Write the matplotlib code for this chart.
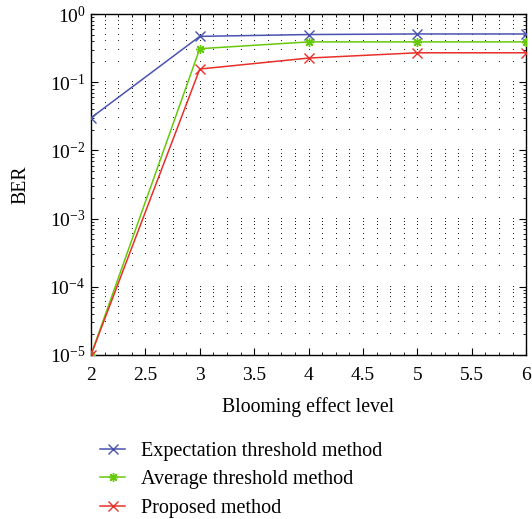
import matplotlib
matplotlib.use("Agg")
import numpy as np
import matplotlib.pyplot as plt
from matplotlib.ticker import LogLocator, NullFormatter

plt.rcParams["font.family"] = ["Liberation Serif", "DejaVu Serif"]
plt.rcParams["mathtext.fontset"] = "stix"

levels = [2, 3, 4, 5, 6]
ber_expectation = [0.03, 0.47, 0.50, 0.51, 0.51]
ber_average = [1e-5, 0.31, 0.39, 0.39, 0.39]
ber_proposed = [1e-5, 0.156, 0.226, 0.27, 0.27]

xticks = [2, 2.5, 3, 3.5, 4, 4.5, 5, 5.5, 6]
xtick_labels = ["2", "2.5", "3", "3.5", "4", "4.5", "5", "5.5", "6"]

series = [
    ("Expectation threshold method", ber_expectation, "#4a52b0", "x"),
    ("Average threshold method", ber_average, "#66c90a", (8, 2, 0)),
    ("Proposed method", ber_proposed, "#e8302a", "x"),
]

fig = plt.figure(figsize=(5.32, 5.19), dpi=100)
ax = fig.add_axes([0.171, 0.316, 0.818, 0.657])

ax.set_xlim(2, 6)
ax.set_ylim(1e-5, 1)
ax.set_yscale("log")
ax.set_xticks(xticks, xtick_labels)
ax.set_xticks(np.arange(2, 6.001, 0.125), minor=True)
ax.yaxis.set_major_locator(LogLocator(base=10, numticks=10))
ax.yaxis.set_minor_locator(LogLocator(base=10, subs=range(2, 10), numticks=10))
ax.yaxis.set_minor_formatter(NullFormatter())

# dotted grid: dots where the x and y grid lines cross
gx = np.arange(2.125, 5.9, 0.125)
gy = [v for v in list(ax.get_yticks()) + list(ax.get_yticks(minor=True)) if 1e-5 < v < 1]
GX, GY = np.meshgrid(gx, gy)
ax.plot(GX.ravel(), GY.ravel(), linestyle="none", marker=",", color="#222222",
        zorder=1)

for label, vals, col, mk in series:
    ax.plot(levels, vals, color=col, marker=mk, markersize=6.5,
            markeredgewidth=1.0, linewidth=1.1, label=label, zorder=3)

ax.tick_params(which="both", direction="in", top=True, right=True)
ax.tick_params(axis="x", labelsize=14, pad=9)
ax.tick_params(axis="y", labelsize=14, pad=4)
ax.tick_params(which="major", length=5)
ax.tick_params(which="minor", length=2.5)
for s in ax.spines.values():
    s.set_linewidth(1.0)

ax.set_xlabel("Blooming effect level", fontsize=14.2, labelpad=9)
ax.set_ylabel("BER", fontsize=14.2, labelpad=14)

fig.legend(loc="upper left", bbox_to_anchor=(0.188, 0.148), frameon=False,
           fontsize=14.5, handlelength=1.25, handletextpad=0.8,
           labelspacing=0.45, borderpad=0, borderaxespad=0)

fig.savefig("out.png", dpi=100)
